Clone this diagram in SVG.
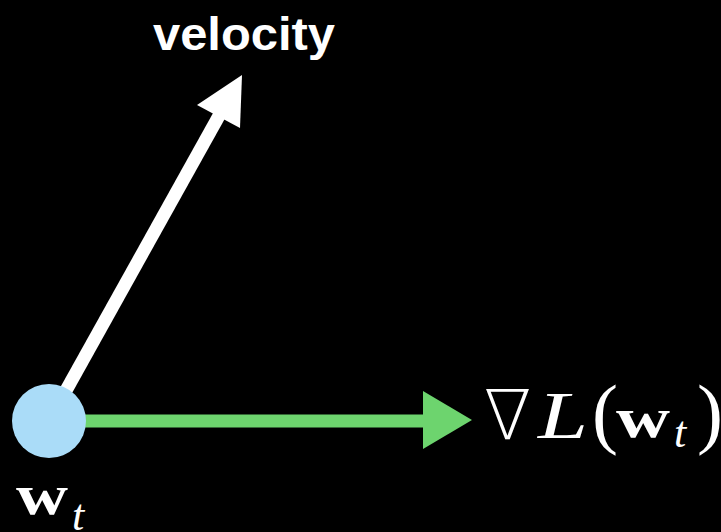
<svg xmlns="http://www.w3.org/2000/svg" width="721" height="532" viewBox="0 0 721 532">
<style>
.math{font-family:"Liberation Serif","DejaVu Serif",serif;fill:#fff}
.it{font-style:italic}
.w{font-weight:bold;font-size:58px}
.sub{font-style:italic;font-size:44px}
.par{font-size:78px}
</style>
<rect width="721" height="532" fill="#000"/>
<g id="connectors">
<g id="velocity-arrow">
<line x1="49" y1="421" x2="220" y2="114" stroke="#fff" stroke-width="13"/>
<polygon points="242,75 197,105 240,128" fill="#fff"/>
</g>
<g id="gradient-arrow">
<line x1="49" y1="421" x2="426" y2="421" stroke="#6dd46e" stroke-width="13"/>
<polygon points="472,420 423,391 423,449" fill="#6dd46e"/>
</g>
</g>
<g id="node-w">
<circle cx="49" cy="421" r="37" fill="#aadcf8"/>
<text class="math w" x="16" y="514" textLength="52" lengthAdjust="spacingAndGlyphs">w</text>
<text class="math sub" x="72" y="530">t</text>
</g>
<g id="label-velocity">
<text x="153" y="50" font-family="Liberation Sans, Arial, sans-serif" font-weight="bold" font-size="47" fill="#fff" textLength="182" lengthAdjust="spacingAndGlyphs">velocity</text>
</g>
<g id="label-gradient">
<text x="484" y="439" font-size="69" font-family="DejaVu Sans, sans-serif" font-weight="200" fill="#fff">∇</text>
<text class="math it" x="538" y="438" font-size="68" textLength="50" lengthAdjust="spacingAndGlyphs">L</text>
<text class="math par" x="592" y="439">(</text>
<text class="math w" x="616" y="437" textLength="54" lengthAdjust="spacingAndGlyphs">w</text>
<text class="math sub" x="674" y="447">t</text>
<text class="math par" x="697" y="439">)</text>
</g>
</svg>
